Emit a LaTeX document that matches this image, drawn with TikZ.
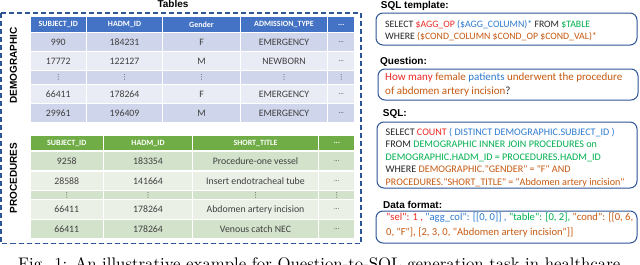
\documentclass[tikz,border=0pt]{standalone}
\usepackage{fontspec}
\newfontfamily\calfont{Carlito}
\newfontfamily\arialfont{Liberation Sans}
\newfontfamily\dejafont{DejaVu Sans}
\definecolor{hdrblue}{HTML}{4472C4}
\definecolor{banddark}{HTML}{CFD5EA}
\definecolor{bandlight}{HTML}{E9EBF5}
\definecolor{hdrgreen}{HTML}{70AD47}
\definecolor{gbanddark}{HTML}{D3E2CB}
\definecolor{gbandlight}{HTML}{EAF0E6}
\definecolor{boxblue}{HTML}{2F5597}
\definecolor{txtred}{HTML}{EE2A24}
\definecolor{txtblue}{HTML}{2E7BCF}
\definecolor{txtgreen}{HTML}{00B050}
\definecolor{txtorange}{HTML}{C65911}
\definecolor{celltext}{HTML}{404040}
\definecolor{boxtext}{HTML}{262626}
\newcommand{\vdotsym}{{\dejafont\fontsize{7}{7}\selectfont ⋮}}
\newcommand{\smell}{{\fontsize{7}{7}\selectfont ...}}
\newcommand{\cell}[7]{\node[#6, minimum width={(#3)-(#2)}, minimum height={(#5)-(#4)}] (#1) at ({((#2)+(#3))/2},{((#4)+(#5))/2}) {#7};}
% demographic row: prefix, y1, y2, style, 5 texts
\newcommand{\drow}[9]{%
  \cell{#1a}{30}{86.5}{#2}{#3}{#4}{#5}
  \cell{#1b}{86.5}{162.5}{#2}{#3}{#4}{#6}
  \cell{#1c}{162.5}{240.5}{#2}{#3}{#4}{#7}
  \cell{#1d}{240.5}{327.5}{#2}{#3}{#4}{#8}
  \cell{#1e}{327.5}{355}{#2}{#3}{#4}{#9}}
% procedures row: prefix, y1, y2, style, 4 texts
\newcommand{\prow}[8]{%
  \cell{#1a}{30}{103.5}{#2}{#3}{#4}{#5}
  \cell{#1b}{103.5}{192.5}{#2}{#3}{#4}{#6}
  \cell{#1c}{192.5}{318.5}{#2}{#3}{#4}{#7}
  \cell{#1d}{318.5}{355}{#2}{#3}{#4}{#8}}
\tikzset{
  cellbox/.style={draw=white, line width=1.3pt, inner sep=0pt},
  dhead/.style={cellbox, fill=hdrblue, text=white, font=\calfont\bfseries\fontsize{8}{9}\selectfont},
  ddark/.style={cellbox, fill=banddark, text=celltext, font=\calfont\fontsize{9.8}{10}\selectfont},
  dlight/.style={cellbox, fill=bandlight, text=celltext, font=\calfont\fontsize{9.8}{10}\selectfont},
  phead/.style={cellbox, fill=hdrgreen, text=white, font=\calfont\bfseries\fontsize{8}{9}\selectfont},
  pdark/.style={cellbox, fill=gbanddark, text=celltext, font=\calfont\fontsize{9.8}{10}\selectfont},
  plight/.style={cellbox, fill=gbandlight, text=celltext, font=\calfont\fontsize{9.8}{10}\selectfont},
  lbl/.style={inner sep=0pt, font=\arialfont\bfseries\fontsize{10}{12}\selectfont, text=black},
  sqlbox/.style={draw=boxblue, line width=1pt, rounded corners=7pt, inner sep=0pt},
  boxtxt/.style={inner sep=0pt, anchor=base west, align=left, text=boxtext},
  frame/.style={draw=boxblue, line width=1.2pt, dash pattern=on 5pt off 3pt}
}
\begin{document}
\begin{tikzpicture}[x=1pt, y=-1pt]
\useasboundingbox (0,0) rectangle (640,265);
\clip (0,0) rectangle (640,265);
\fill[white] (0,0) rectangle (640,265);

% ---------- left: tables ----------
\draw[frame] (1,13) rectangle (361,243.5);
\node[lbl, anchor=base] (tables) at (173,8) {Tables};
\node[lbl, rotate=90] (demo) at (13.5,65.5) {DEMOGRAPHIC};
\node[lbl, rotate=90] (proc) at (13.5,178) {PROCEDURES};

\drow{d0}{16.5}{32.5}{dhead}{SUBJECT\_ID}{HADM\_ID}{Gender}{ADMISSION\_TYPE}{...}
\drow{d1}{32.5}{51.8}{ddark}{990}{184231}{F}{EMERGENCY}{\smell}
\drow{d2}{51.8}{70.5}{dlight}{17772}{122127}{M}{NEWBORN}{\smell}
\drow{d3}{70.5}{84.5}{ddark}{\vdotsym}{\vdotsym}{\vdotsym}{\vdotsym}{\vdotsym}
\drow{d4}{84.5}{103.5}{dlight}{66411}{178264}{F}{EMERGENCY}{\smell}
\drow{d5}{103.5}{122.5}{ddark}{29961}{196409}{M}{EMERGENCY}{\smell}

\prow{p0}{135.5}{151}{phead}{SUBJECT\_ID}{HADM\_ID}{SHORT\_TITLE}{...}
\prow{p1}{151}{171}{pdark}{9258}{183354}{Procedure-one vessel}{\smell}
\prow{p2}{171}{190.5}{plight}{28588}{141664}{Insert endotracheal tube}{\smell}
\prow{p3}{190.5}{199.5}{pdark}{\vdotsym}{\vdotsym}{\vdotsym}{\vdotsym}
\prow{p4}{199.5}{219.5}{plight}{66411}{178264}{Abdomen artery incision}{\smell}
\prow{p5}{219.5}{238.5}{pdark}{66411}{178264}{Venous catch NEC}{\smell}

% ---------- right: SQL boxes ----------
% (a multi-line node's base anchor is the baseline of its last line)
\node[lbl, anchor=base west] (ltmpl) at (380.7,8.5) {SQL template:};
\node[sqlbox, minimum width=261, minimum height=32] (tmplbox) at (506.5,29) {};
\node[boxtxt, font=\calfont\fontsize{9.8}{11.7}\selectfont] (tmpltxt) at (385,39)
  {SELECT {\color{txtred}\$AGG\_OP} {\color{txtblue}(\$AGG\_COLUMN)*} FROM {\color{txtgreen}\$TABLE}\\
   WHERE {\color{txtorange}(\$COND\_COLUMN \$COND\_OP \$COND\_VAL)*}};

\node[lbl, anchor=base west] (lquest) at (380,64) {Question:};
\node[sqlbox, minimum width=260, minimum height=31] (questbox) at (508,84.5) {};
\node[boxtxt, font=\calfont\fontsize{11}{14}\selectfont] (questtxt) at (385,94)
  {{\color{txtred}How many} {\color{txtorange}female} {\color{txtblue}patients} {\color{txtorange}underwent the procedure}\\
   {\color{txtorange}of abdomen artery incision}?};

\node[lbl, anchor=base west] (lsql) at (382.7,116.5) {SQL:};
\node[sqlbox, minimum width=260, minimum height=66] (sqlbox) at (507,155) {};
\node[boxtxt, font=\calfont\fontsize{10.1}{12.5}\selectfont] (sqltxt) at (385.5,185)
  {SELECT {\color{txtred}COUNT} {\color{txtblue}( DISTINCT DEMOGRAPHIC.SUBJECT\_ID )}\\
   FROM {\color{txtgreen}DEMOGRAPHIC INNER JOIN PROCEDURES on}\\
   {\color{txtgreen}DEMOGRAPHIC.HADM\_ID = PROCEDURES.HADM\_ID}\\
   WHERE {\color{txtorange}DEMOGRAPHIC."GENDER" = "F" AND}\\
   {\color{txtorange}PROCEDURES."SHORT\_TITLE" = "Abdomen artery incision"}};

\node[lbl, anchor=base west] (ldata) at (383,208.5) {Data format:};
\node[sqlbox, minimum width=261, minimum height=32] (databox) at (506.5,227) {};
\node[boxtxt, font=\calfont\fontsize{10.6}{15}\selectfont] (datatxt) at (386,235.5)
  {{\color{txtred}"sel": 1 ,} {\color{txtblue}"agg\_col": [[0, 0]] ,} {\color{txtgreen}"table": [0, 2],} {\color{txtorange}"cond": [[0, 6,}\\
   {\color{txtorange}0, "F"], [2, 3, 0, "Abdomen artery incision"]]}};

% ---------- caption (cut off at the bottom) ----------
\node[inner sep=0pt, anchor=base west, text=black] (caption) at (18,269.5)
  {\resizebox{602pt}{!}{Fig. 1: An illustrative example for Question-to-SQL generation task in healthcare}};
\end{tikzpicture}
\end{document}
